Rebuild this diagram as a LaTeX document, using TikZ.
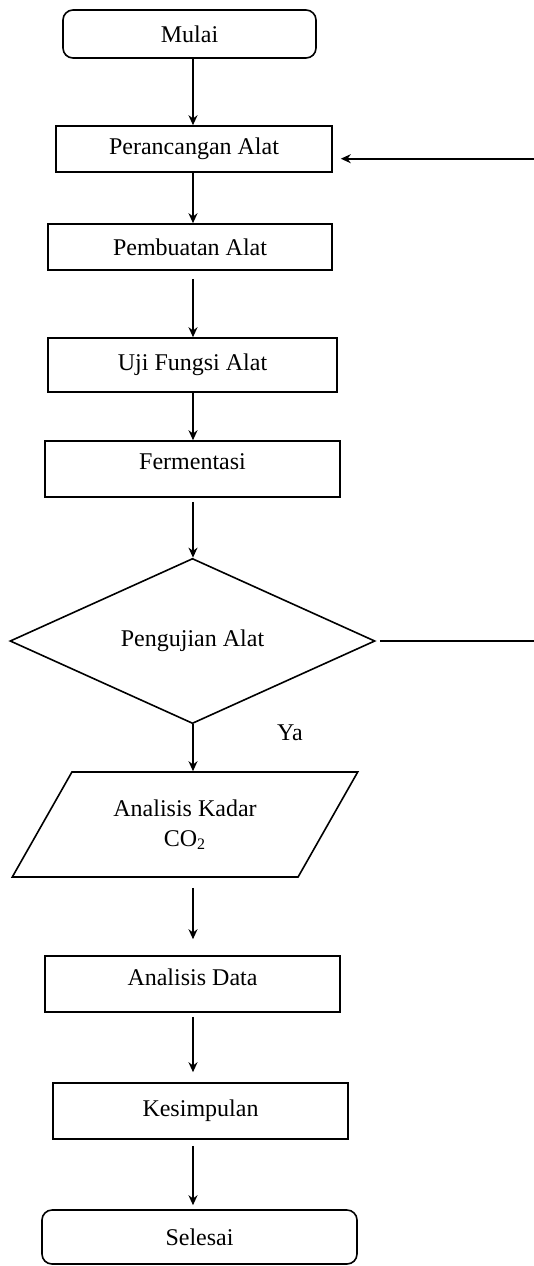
\documentclass[tikz,border=0pt]{standalone}
\usepackage{fontspec}
\setmainfont{Liberation Serif}
\usepackage{tikz}
\usetikzlibrary{shapes.geometric,arrows.meta}
\tikzstyle{terminal}=[rectangle, draw, line width=0.8pt, rounded corners=5pt, text centered, font=\fontsize{12}{15}\selectfont]
\tikzstyle{proses}=[rectangle, draw, line width=0.8pt, text centered, font=\fontsize{12}{15}\selectfont]
\tikzstyle{keputusan}=[diamond, draw, line width=0.8pt, inner sep=0pt, text centered, font=\fontsize{12}{15}\selectfont]
\tikzstyle{masukan}=[trapezium, trapezium left angle=57, trapezium right angle=123, trapezium stretches=true, draw, line width=0.8pt, align=center, font=\fontsize{12}{15}\selectfont]
\tikzstyle{panah}=[line width=0.8pt, -{Stealth[length=5pt,width=4.5pt]}]
\tikzstyle{garis}=[line width=0.8pt]

\begin{document}
\begin{tikzpicture}[x=0.5pt,y=-0.5pt]
\useasboundingbox (0,0) rectangle (534,1266);

%Nodes
\node[terminal, minimum width=126.5pt, minimum height=24pt](mulai) at (189.5,34){Mulai};
\node[proses, minimum width=138pt, minimum height=23pt](rancang) at (194,149){Perancangan Alat};
\node[proses, minimum width=142pt, minimum height=23pt](buat) at (190,247){Pembuatan Alat};
\node[proses, minimum width=144.5pt, minimum height=27pt](uji) at (192.5,365){Uji Fungsi Alat};
\node[proses, minimum width=147.5pt, minimum height=28pt, text depth=7pt](ferm) at (192.5,469){Fermentasi};
\node[keputusan, minimum width=182.5pt, minimum height=79pt](pengujian) at (192.5,641){Pengujian Alat};
\node[font=\fontsize{12}{15}\selectfont](ya) at (290,733){Ya};
\node[masukan, minimum width=173pt, minimum height=52.5pt](kadar) at (185,824.5){Analisis Kadar\\CO\textsubscript{2}};
\node[proses, minimum width=147.5pt, minimum height=28pt, text depth=7pt](data) at (192.5,984){Analisis Data};
\node[proses, minimum width=147.5pt, minimum height=28pt](simpul) at (200.5,1111){Kesimpulan};
\node[terminal, minimum width=157.5pt, minimum height=27pt](selesai) at (199.5,1237){Selesai};

%Helper coordinates
\coordinate (spine) at (193,0);
\coordinate (tepi) at (534,0);

%Arrows
\draw[panah] (mulai.south -| spine) -- (rancang.north -| spine);
\draw[panah] (rancang.south -| spine) -- (buat.north -| spine);
\draw[panah] ([yshift=-4pt]buat.south -| spine) -- (uji.north -| spine);
\draw[panah] (uji.south -| spine) -- (ferm.north -| spine);
\draw[panah] ([yshift=-2pt]ferm.south -| spine) -- (pengujian.north -| spine);
\draw[panah] (pengujian.south -| spine) -- (kadar.north -| spine);
\draw[panah] ([yshift=-5pt]kadar.south -| spine) -- ([yshift=8pt]data.north -| spine);
\draw[panah] ([yshift=-2pt]data.south -| spine) -- ([yshift=5pt]simpul.north -| spine);
\draw[panah] ([yshift=-3pt]simpul.south -| spine) -- ([yshift=2pt]selesai.north -| spine);

%Feedback
\draw[garis] ([xshift=2pt]pengujian.east) -- (pengujian.east -| tepi);
\draw[panah, shorten >=4pt] (rancang.-4 -| tepi) -- (rancang.-4);

\end{tikzpicture}
\end{document}
